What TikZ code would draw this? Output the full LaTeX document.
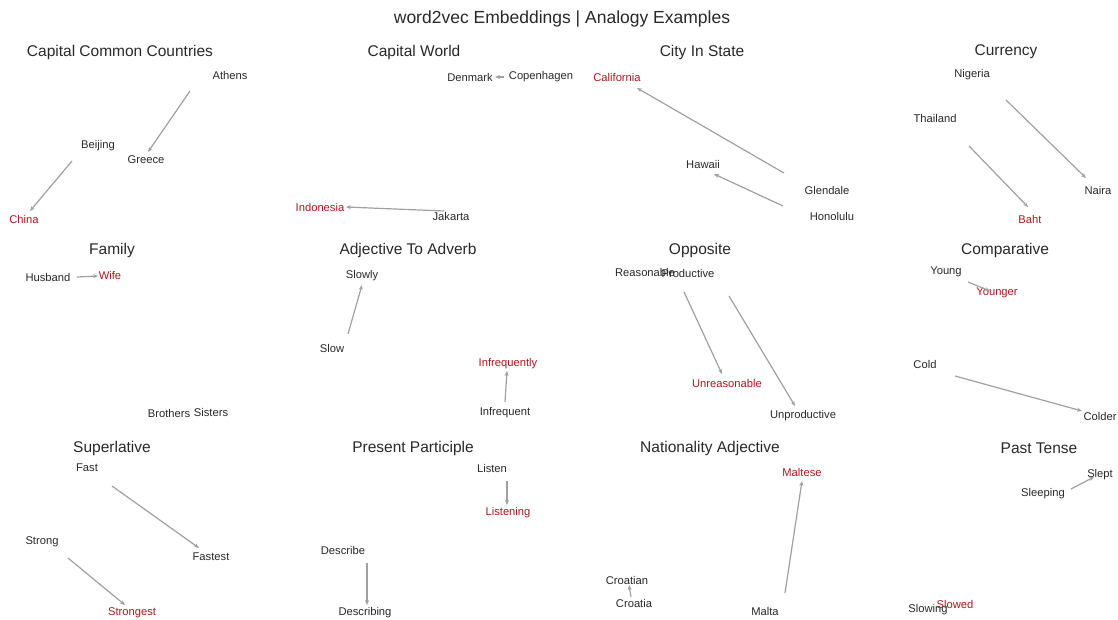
\documentclass[tikz,border=0pt]{standalone}
\usepackage{fontspec}
\setmainfont{Liberation Sans}
\usetikzlibrary{arrows.meta}
\definecolor{wordgray}{RGB}{40,40,40}
\definecolor{targetred}{RGB}{165,25,30}
\definecolor{vecgray}{RGB}{160,160,160}
\tikzset{
maintitle/.style={font=\fontsize{17.5}{20}\selectfont,text=wordgray,inner sep=0pt},
paneltitle/.style={font=\fontsize{15.5}{18}\selectfont,text=wordgray,inner sep=0pt},
word/.style={font=\fontsize{11.2}{13}\selectfont,text=wordgray,inner sep=0pt},
target/.style={word,text=targetred},
vec/.style={draw=vecgray,line width=1.2pt,-{Stealth[length=5pt,width=4pt]}}
}
\begin{document}
\begin{tikzpicture}[x=1pt,y=-1pt]
\useasboundingbox (0,0) rectangle (1118,620);
\node[maintitle](title) at (562,19){word2vec Embeddings | Analogy Examples};
% panel titles
\node[paneltitle](t1) at (120,52){Capital Common Countries};
\node[paneltitle](t2) at (414,52){Capital World};
\node[paneltitle](t3) at (702,52){City In State};
\node[paneltitle](t4) at (1006,52){Currency};
\node[paneltitle](t5) at (112,250){Family};
\node[paneltitle](t6) at (408,250){Adjective To Adverb};
\node[paneltitle](t7) at (700,250){Opposite};
\node[paneltitle](t8) at (1005,250){Comparative};
\node[paneltitle](t9) at (112,448){Superlative};
\node[paneltitle](t10) at (413,448){Present Participle};
\node[paneltitle](t11) at (710,448){Nationality Adjective};
\node[paneltitle](t12) at (1039,448){Past Tense};
% capital common countries
\node[word](athens) at (230,75){Athens};
\node[word](beijing) at (98,146){Beijing};
\node[word](greece) at (146,160){Greece};
\node[target](china) at (24,219){China};
% capital world
\node[word](denmark) at (470,77){Denmark};
\node[word](copenhagen) at (541,77){Copenhagen};
\node[target](indonesia) at (320,207){Indonesia};
\node[word](jakarta) at (451,216){Jakarta};
% city in state
\node[target](california) at (617,77){California};
\node[word](hawaii) at (703,164){Hawaii};
\node[word](glendale) at (827,190){Glendale};
\node[word](honolulu) at (832,216){Honolulu};
% currency
\node[word](nigeria) at (972,75){Nigeria};
\node[word](thailand) at (935,118){Thailand};
\node[word](naira) at (1098,190){Naira};
\node[target](baht) at (1030,219){Baht};
% family
\node[word](husband) at (48,277){Husband};
\node[target](wife) at (110,275){Wife};
\node[word](brothers) at (169,413){Brothers};
\node[word](sisters) at (211,412){Sisters};
% adjective to adverb
\node[word](slowly) at (362,276){Slowly};
\node[word](slow) at (332,348){Slow};
\node[target](infrequently) at (508,364){Infrequently};
\node[word](infrequent) at (505,413){Infrequent};
% opposite
\node[word](reasonable) at (645,272){Reasonable};
\node[word](productive) at (688,273){Productive};
\node[target](unreasonable) at (727,383){Unreasonable};
\node[word](unproductive) at (803,416){Unproductive};
% comparative
\node[word](young) at (946,272){Young};
\node[target](younger) at (997,293){Younger};
\node[word](cold) at (925,364){Cold};
\node[word](colder) at (1100,416){Colder};
% superlative
\node[word](fast) at (87,468){Fast};
\node[word](fastest) at (211,557){Fastest};
\node[word](strong) at (42,542){Strong};
\node[target](strongest) at (132,613){Strongest};
% present participle
\node[word](listen) at (492,468){Listen};
\node[target](listening) at (508,513){Listening};
\node[word](describe) at (343,550){Describe};
\node[word](describing) at (365,613){Describing};
% nationality adjective
\node[target](maltese) at (802,472){Maltese};
\node[word](malta) at (765,611){Malta};
\node[word](croatian) at (627,580){Croatian};
\node[word](croatia) at (634,603){Croatia};
% past tense
\node[word](slept) at (1100,475){Slept};
\node[word](sleeping) at (1043,494){Sleeping};
\node[word](slowing) at (928,610){Slowing};
\node[target](slowed) at (955,604){Slowed};
% analogy vectors: from/dx/dy/to/dx/dy
\foreach \a/\ax/\ay/\b/\bx/\by in {
athens/-40/16/greece/2/-8, beijing/-26/15/china/6/-8,
copenhagen/-37/0/denmark/25/0, jakarta/-7/-5/indonesia/26/0,
glendale/-43/-17/california/20/11, honolulu/-49/-10/hawaii/11/10,
nigeria/34/25/naira/-12/-12, thailand/34/28/baht/-2/-12,
husband/29/0/wife/-12/1, slow/16/-14/slowly/0/9,
infrequent/0/-11/infrequently/-1/7,
reasonable/39/20/unreasonable/-5/-9, productive/41/23/unproductive/-8/-10,
young/22/10/younger/-7/-2, cold/30/12/colder/-18/-5,
fast/25/18/fastest/-12/-9, strong/26/16/strongest/-7/-8,
listen/15/13/listening/-1/-8, describe/24/13/describing/2/-8,
malta/20/-18/maltese/0/9, croatia/-3/-6/croatian/2/5,
sleeping/28/-5/slept/-6/2}
\draw[vec]([shift={(\ax,\ay)}]\a.center)--([shift={(\bx,\by)}]\b.center);
\end{tikzpicture}
\end{document}
